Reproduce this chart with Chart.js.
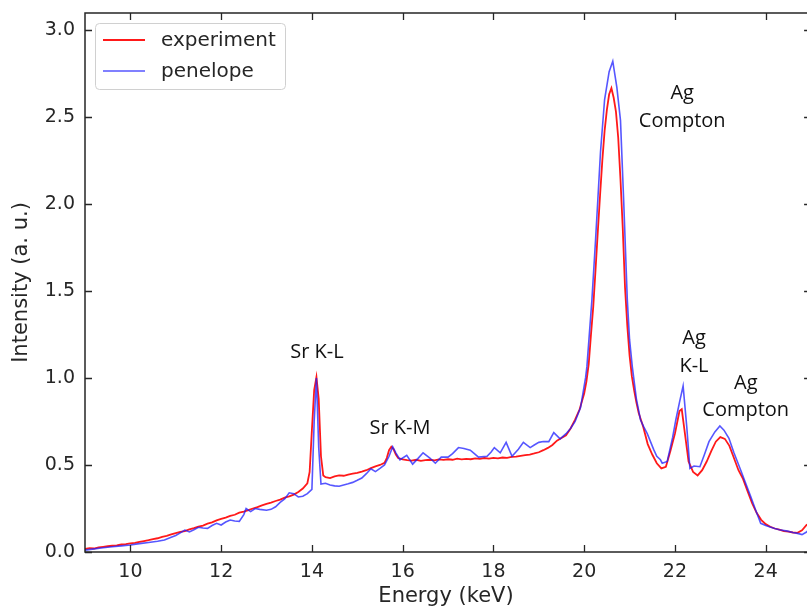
<!DOCTYPE html>
<html>
<head>
<meta charset="utf-8">
<script src="https://cdn.jsdelivr.net/npm/chart.js@4.4.0/dist/chart.umd.min.js"></script>
<style>
  html, body { margin: 0; padding: 0; background: #fff; }
  #wrap { width: 807px; height: 610px; }
</style>
</head>
<body>
<div id="wrap"><canvas id="spectrum" width="807" height="610"></canvas></div>
<script>
// measured spectrum (red)
const expEnergy = [
  9.0, 9.1, 9.2, 9.3, 9.4, 9.5, 9.6, 9.7, 9.8, 9.9,
  10.0, 10.1, 10.2, 10.3, 10.4, 10.5, 10.6, 10.7, 10.8, 10.9,
  11.0, 11.1, 11.2, 11.3, 11.4, 11.5, 11.6, 11.7, 11.8, 11.9,
  12.0, 12.1, 12.2, 12.3, 12.4, 12.5, 12.6, 12.7, 12.8, 12.9,
  13.0, 13.1, 13.2, 13.3, 13.4, 13.5, 13.6, 13.7, 13.8, 13.9,
  13.95, 14.0, 14.05, 14.1, 14.15, 14.2, 14.25, 14.3, 14.4, 14.5,
  14.6, 14.7, 14.8, 14.9, 15.0, 15.1, 15.2, 15.3, 15.4, 15.5,
  15.6, 15.65, 15.7, 15.75, 15.8, 15.85, 15.9, 16.0, 16.1, 16.2,
  16.3, 16.4, 16.5, 16.6, 16.7, 16.8, 16.9, 17.0, 17.1, 17.2,
  17.3, 17.4, 17.5, 17.6, 17.7, 17.8, 17.9, 18.0, 18.1, 18.2,
  18.3, 18.4, 18.5, 18.6, 18.7, 18.8, 18.9, 19.0, 19.1, 19.2,
  19.3, 19.4, 19.5, 19.6, 19.7, 19.8, 19.9, 20.0, 20.05, 20.1,
  20.15, 20.2, 20.25, 20.3, 20.35, 20.4, 20.45, 20.5, 20.55, 20.6,
  20.65, 20.7, 20.75, 20.8, 20.85, 20.9, 20.95, 21.0, 21.05, 21.1,
  21.15, 21.2, 21.3, 21.4, 21.5, 21.6, 21.7, 21.8, 21.9, 22.0,
  22.1, 22.15, 22.2, 22.3, 22.4, 22.5, 22.6, 22.7, 22.8, 22.9,
  23.0, 23.1, 23.2, 23.3, 23.4, 23.5, 23.6, 23.7, 23.8, 23.9,
  24.0, 24.1, 24.2, 24.3, 24.4, 24.5, 24.6, 24.7, 24.8, 24.9, 25.0
];
const expIntensity = [
  0.017, 0.022, 0.020, 0.027, 0.030, 0.033, 0.036, 0.038, 0.043, 0.045,
  0.050, 0.053, 0.058, 0.063, 0.068, 0.074, 0.079, 0.087, 0.093, 0.101,
  0.108, 0.115, 0.120, 0.130, 0.137, 0.146, 0.152, 0.163, 0.170, 0.182,
  0.190, 0.198, 0.207, 0.214, 0.226, 0.232, 0.241, 0.250, 0.258, 0.268,
  0.276, 0.284, 0.293, 0.301, 0.312, 0.320, 0.330, 0.345, 0.365, 0.395,
  0.46, 0.70, 0.93, 1.005, 0.88, 0.55, 0.44, 0.43, 0.425, 0.435,
  0.440, 0.438, 0.445, 0.450, 0.455, 0.462, 0.470, 0.482, 0.492, 0.500,
  0.512, 0.540, 0.585, 0.605, 0.590, 0.560, 0.540, 0.532, 0.528, 0.525,
  0.530, 0.524, 0.528, 0.530, 0.526, 0.532, 0.529, 0.533, 0.530, 0.536,
  0.532, 0.535, 0.533, 0.538, 0.535, 0.540, 0.537, 0.541, 0.538, 0.543,
  0.541, 0.546, 0.548, 0.552, 0.556, 0.560, 0.566, 0.573, 0.585, 0.598,
  0.615, 0.640, 0.655, 0.670, 0.710, 0.760, 0.820, 0.910, 0.980, 1.08,
  1.25, 1.41, 1.62, 1.84, 2.05, 2.25, 2.42, 2.54, 2.63, 2.665,
  2.61, 2.53, 2.38, 2.14, 1.86, 1.52, 1.30, 1.13, 1.01, 0.93,
  0.86, 0.80, 0.72, 0.62, 0.56, 0.51, 0.48, 0.49, 0.58, 0.68,
  0.81, 0.82, 0.72, 0.52, 0.46, 0.44, 0.47, 0.52, 0.58, 0.634,
  0.660, 0.650, 0.610, 0.540, 0.470, 0.420, 0.350, 0.280, 0.225, 0.185,
  0.160, 0.145, 0.135, 0.128, 0.120, 0.117, 0.112, 0.110, 0.125, 0.155, 0.170
];

// PENELOPE simulation (blue)
const penEnergy = [
  9.0, 9.2, 9.4, 9.6, 9.8, 10.0, 10.2, 10.4, 10.6, 10.75,
  10.9, 11.0, 11.1, 11.2, 11.3, 11.4, 11.5, 11.6, 11.7, 11.8,
  11.9, 12.0, 12.1, 12.2, 12.3, 12.4, 12.5, 12.55, 12.65, 12.75,
  12.85, 13.0, 13.1, 13.2, 13.3, 13.4, 13.5, 13.6, 13.7, 13.8,
  13.9, 14.0, 14.05, 14.1, 14.15, 14.2, 14.3, 14.4, 14.5, 14.6,
  14.7, 14.8, 14.9, 15.0, 15.1, 15.2, 15.3, 15.4, 15.5, 15.6,
  15.7, 15.78, 15.85, 15.94, 16.09, 16.22, 16.33, 16.45, 16.6, 16.72,
  16.85, 17.0, 17.1, 17.23, 17.35, 17.49, 17.58, 17.67, 17.86, 17.95,
  18.02, 18.15, 18.28, 18.41, 18.55, 18.66, 18.81, 18.9, 19.0, 19.1,
  19.22, 19.33, 19.47, 19.6, 19.7, 19.8, 19.92, 20.03, 20.06, 20.17,
  20.25, 20.3, 20.36, 20.45, 20.55, 20.63, 20.72, 20.8, 20.87, 20.95,
  21.0, 21.06, 21.15, 21.24, 21.31, 21.39, 21.53, 21.6, 21.68, 21.72,
  21.83, 21.95, 22.02, 22.1, 22.18, 22.26, 22.33, 22.42, 22.55, 22.65,
  22.75, 22.88, 22.99, 23.08, 23.19, 23.3, 23.45, 23.55, 23.67, 23.78,
  23.89, 24.0, 24.18, 24.3, 24.48, 24.6, 24.7, 24.8, 24.9, 25.0
];
const penIntensity = [
  0.011, 0.018, 0.024, 0.030, 0.035, 0.040, 0.048, 0.055, 0.062, 0.069,
  0.085, 0.095, 0.110, 0.126, 0.115, 0.128, 0.142, 0.138, 0.136, 0.152,
  0.165, 0.155, 0.172, 0.184, 0.178, 0.176, 0.215, 0.250, 0.232, 0.250,
  0.245, 0.240, 0.245, 0.260, 0.285, 0.305, 0.340, 0.335, 0.316, 0.320,
  0.335, 0.360, 0.75, 1.00, 0.60, 0.390, 0.395, 0.385, 0.380, 0.378,
  0.385, 0.392, 0.400, 0.412, 0.425, 0.450, 0.478, 0.462, 0.480, 0.500,
  0.550, 0.605, 0.570, 0.530, 0.555, 0.505, 0.535, 0.570, 0.540, 0.510,
  0.545, 0.545, 0.565, 0.600, 0.595, 0.585, 0.565, 0.545, 0.550, 0.575,
  0.600, 0.570, 0.630, 0.550, 0.590, 0.630, 0.600, 0.615, 0.630, 0.635,
  0.634, 0.686, 0.650, 0.680, 0.710, 0.750, 0.830, 1.00, 1.065, 1.448,
  1.79, 2.02, 2.30, 2.60, 2.76, 2.82, 2.67, 2.48, 2.02, 1.45,
  1.22, 1.065, 0.88, 0.76, 0.72, 0.68, 0.59, 0.55, 0.53, 0.51,
  0.52, 0.66, 0.76, 0.86, 0.954, 0.72, 0.48, 0.494, 0.49, 0.56,
  0.634, 0.69, 0.724, 0.70, 0.653, 0.57, 0.47, 0.40, 0.318, 0.24,
  0.165, 0.152, 0.136, 0.128, 0.12, 0.112, 0.107, 0.100, 0.115, 0.136
];

const xTickValues = [10, 12, 14, 16, 18, 20, 22, 24];
const yTickValues = [0.0, 0.5, 1.0, 1.5, 2.0, 2.5, 3.0];

// peak labels, placed in data units (energy, intensity of each text line)
const peakLabels = [
  { lines: ['Sr K-L'], x: 14.11, y: [1.15] },
  { lines: ['Sr K-M'], x: 15.94, y: [0.713] },
  { lines: ['Ag', 'Compton'], x: 22.16, y: [2.637, 2.474] },
  { lines: ['Ag', 'K-L'], x: 22.42, y: [1.228, 1.065] },
  { lines: ['Ag', 'Compton'], x: 23.56, y: [0.969, 0.816] }
];

function toPoints(xs, ys) {
  return xs.map((x, i) => ({ x: x, y: ys[i] }));
}

const frameColor = '#262626';

const framePlugin = {
  id: 'frame',
  afterDatasetsDraw(chart) {
    const ctx = chart.ctx;
    const xs = chart.scales.x;
    const ys = chart.scales.y;
    const area = chart.chartArea;
    const left = area.left;
    const top = area.top;
    const bottom = area.bottom;
    const right = xs.getPixelForValue(25);

    ctx.save();
    ctx.strokeStyle = frameColor;
    ctx.lineWidth = 1.5;
    ctx.strokeRect(left, top, right - left, bottom - top);

    ctx.lineWidth = 1.3;
    ctx.beginPath();
    xTickValues.forEach(v => {
      const px = Math.round(xs.getPixelForValue(v)) + 0.5;
      ctx.moveTo(px, bottom); ctx.lineTo(px, bottom - 7);
      ctx.moveTo(px, top); ctx.lineTo(px, top + 7);
    });
    yTickValues.forEach(v => {
      const py = Math.round(ys.getPixelForValue(v)) + 0.5;
      ctx.moveTo(left, py); ctx.lineTo(left + 7, py);
      ctx.moveTo(right, py); ctx.lineTo(right - 7, py);
    });
    ctx.stroke();

    // peak labels
    ctx.fillStyle = '#111';
    ctx.font = '20px "Open Sans"';
    ctx.textAlign = 'center';
    ctx.textBaseline = 'middle';
    peakLabels.forEach(lbl => {
      lbl.lines.forEach((t, i) => {
        ctx.fillText(t, xs.getPixelForValue(lbl.x), ys.getPixelForValue(lbl.y[i]));
      });
    });

    // legend box
    const bx = 95.5, by = 23.5, bw = 190, bh = 66, r = 4;
    ctx.beginPath();
    ctx.moveTo(bx + r, by);
    ctx.arcTo(bx + bw, by, bx + bw, by + bh, r);
    ctx.arcTo(bx + bw, by + bh, bx, by + bh, r);
    ctx.arcTo(bx, by + bh, bx, by, r);
    ctx.arcTo(bx, by, bx + bw, by, r);
    ctx.closePath();
    ctx.fillStyle = 'rgba(255,255,255,0.85)';
    ctx.fill();
    ctx.strokeStyle = '#d0d0d0';
    ctx.lineWidth = 1;
    ctx.stroke();

    ctx.font = '20px "DejaVu Sans"';
    ctx.textAlign = 'left';
    chart.data.datasets.forEach((ds, i) => {
      const ly = 40 + i * 31;
      ctx.strokeStyle = ds.borderColor;
      ctx.lineWidth = ds.borderWidth;
      ctx.beginPath();
      ctx.moveTo(103, ly); ctx.lineTo(145, ly);
      ctx.stroke();
      ctx.fillStyle = '#262626';
      ctx.fillText(ds.label, 161, ly + 1);
    });
    ctx.restore();
  }
};

const ctx = document.getElementById('spectrum').getContext('2d');

new Chart(ctx, {
  type: 'line',
  data: {
    datasets: [
      {
        label: 'experiment',
        data: toPoints(expEnergy, expIntensity),
        borderColor: 'rgba(255,0,0,0.9)',
        borderWidth: 1.8,
        pointRadius: 0,
        tension: 0,
        order: 2
      },
      {
        label: 'penelope',
        data: toPoints(penEnergy, penIntensity),
        borderColor: 'rgba(30,30,255,0.75)',
        borderWidth: 1.6,
        pointRadius: 0,
        tension: 0,
        order: 1
      }
    ]
  },
  options: {
    responsive: false,
    animation: false,
    devicePixelRatio: 1,
    layout: { padding: { top: 13, right: 0, left: 0, bottom: 0 } },
    plugins: {
      legend: { display: false },
      tooltip: { enabled: false }
    },
    scales: {
      x: {
        type: 'linear',
        min: 9,
        max: 24.91,
        afterBuildTicks: scale => { scale.ticks = xTickValues.map(v => ({ value: v })); },
        afterFit: scale => {
          scale.height = 58;
          scale.paddingLeft = 0;
          scale.paddingRight = 0;
        },
        grid: { display: false, drawTicks: false },
        border: { display: false },
        ticks: {
          padding: 9,
          color: '#262626',
          font: { family: 'DejaVu Sans', size: 19 },
          maxRotation: 0,
          callback: v => String(v)
        },
        title: {
          display: true,
          text: 'Energy (keV)',
          color: '#262626',
          font: { family: 'DejaVu Sans', size: 21 },
          padding: { top: 0, bottom: 1 }
        }
      },
      y: {
        min: 0,
        max: 3.097,
        afterBuildTicks: scale => { scale.ticks = yTickValues.map(v => ({ value: v })); },
        afterFit: scale => {
          scale.width = 85;
          scale.paddingTop = 0;
          scale.paddingBottom = 0;
        },
        grid: { display: false, drawTicks: false },
        border: { display: false },
        ticks: {
          padding: 10,
          color: '#262626',
          font: { family: 'DejaVu Sans', size: 19 },
          callback: v => Number(v).toFixed(1)
        },
        title: {
          display: true,
          text: 'Intensity (a. u.)',
          color: '#262626',
          font: { family: 'DejaVu Sans', size: 21 },
          padding: { top: 9, bottom: 0 }
        }
      }
    }
  },
  plugins: [framePlugin]
});
</script>
</body>
</html>
